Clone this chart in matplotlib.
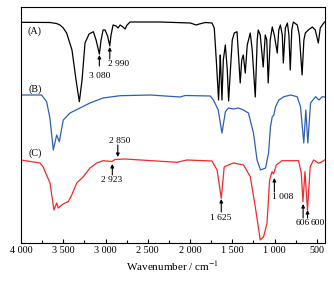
import matplotlib
matplotlib.use('Agg')
import matplotlib.pyplot as plt
import numpy

plt.rcParams['font.family'] = ['Liberation Serif', 'DejaVu Serif']
plt.rcParams['mathtext.fontset'] = 'stix'

# 光谱 A（黑）: 波数, 相对透过率（任意单位）
wn_a = [4000, 3658, 3580, 3539, 3500, 3460, 3397, 3349, 3310, 3278, 3243, 3195,
        3144, 3112, 3073, 3053, 3029, 3006, 2976, 2950, 2935, 2911, 2875, 2852,
        2828, 2793, 2769, 2745, 2710, 2354, 1998, 1927, 1891, 1821, 1741, 1714,
        1690, 1663, 1649, 1643, 1623, 1607, 1583, 1560, 1544, 1523, 1501, 1477,
        1445, 1431, 1407, 1389, 1371, 1347, 1324, 1288, 1265, 1229, 1206, 1194,
        1170, 1135, 1111, 1093, 1076, 1052, 1028, 1004, 969, 951, 932, 909, 897,
        873, 849, 831, 815, 797, 779, 732, 708, 675, 654, 637, 601, 554, 519,
        483, 460, 436, 410]
t_a = [220.7, 220.5, 219.5, 218, 215, 210, 193, 163, 141.3, 163, 200, 209,
       211.3, 203, 189, 203, 213, 213, 207, 197, 208, 218, 217, 215,
       218, 216, 214, 218, 221, 221, 220, 218, 219, 220.5, 220, 215,
       183, 143, 173, 188, 143, 183, 198, 173, 142, 173, 203, 210,
       211.3, 193, 160, 183, 188, 170, 198, 210, 193, 146, 203, 213,
       208, 176, 208, 203, 160, 203, 216, 208, 190, 213, 218, 208, 180,
       215, 220, 208, 173, 213, 221, 218, 208, 168, 203, 210, 213, 216, 213,
       200, 215, 218, 221]

# 光谱 B（蓝）
wn_b = [4000, 3756, 3697, 3658, 3618, 3578, 3547, 3500, 3420, 3302, 3184, 3030,
        2828, 2473, 2117, 2058, 1762, 1724, 1667, 1623, 1582, 1546, 1487, 1428,
        1369, 1310, 1250, 1208, 1167, 1107, 1072, 1049, 1028, 1009, 989, 950,
        890, 811, 734, 694, 655, 631, 607, 575, 516, 476, 436, 410]
t_b = [148, 148, 141.3, 125, 93, 108, 101.3, 123, 130, 135, 140, 145,
       147.3, 148, 146, 147.5, 147, 143, 133, 110, 131.3, 135, 134, 135,
       133, 130, 110, 83, 73, 75, 90, 116.3, 126.3, 128, 136.3, 143,
       146.3, 148, 146.3, 136.3, 100, 133, 100, 140, 146.3, 143, 146.3, 146]

# 光谱 C（红）
wn_c = [4000, 3776, 3740, 3657, 3610, 3578, 3559, 3519, 3480, 3441, 3400, 3341,
        3263, 3184, 3104, 3029, 2926, 2887, 2848, 2769, 2156, 2038, 1741, 1681,
        1631, 1596, 1487, 1367, 1288, 1229, 1170, 1130, 1090, 1059, 1031, 1012,
        980, 913, 717, 685, 665, 641, 611, 579, 539, 480, 438, 410]
t_c = [83, 80, 76.3, 60, 33, 40, 35, 38, 40, 41.3, 48, 60,
       66.3, 75, 80, 82.3, 81.5, 83.5, 83.7, 84, 80.7, 83, 82, 73,
       44.7, 76.3, 80, 78, 66.3, 36.3, 3, 6.3, 19.7, 63, 71.3, 69,
       78, 82.3, 82.3, 70, 41.3, 71.3, 33, 76.3, 83, 79.7, 81.3, 83]

# 标注: 文字, 文字位置(波数, y), 箭头(波数, 起点y, 终点y)
notes = [
    ('3 080', 3065, 167, 3073, 177, 188),
    ('2 990', 2850, 179, 2950, 184, 196),
    ('2 850', 2828, 102, 2855, 98, 86),
    ('2 923', 2923, 63, 2920, 68, 79),
    ('1 625', 1641, 25, 1631, 31, 44),
    ('1 008', 910, 46, 1003, 51, 65),
    ('606', 668, 20, 663, 25, 39),
    ('600', 484, 20, 611, 25, 33),
]
names = ['(A)', '(B)', '(C)']
name_y = [212, 154, 90]


def main():
    fig = plt.figure(figsize=(3.34, 2.83), dpi=100)
    ax = fig.add_axes([21 / 334, 1 - 243 / 283, 303.5 / 334, 236 / 283])
    ax.plot(wn_a, t_a, color='black', lw=0.9)
    ax.plot(wn_b, t_b, color='#2e5fb5', lw=0.9)
    ax.plot(wn_c, t_c, color='#f02a2a', lw=0.9)

    for txt, tx, ty, ax_x, y0, y1 in notes:
        ax.text(tx, ty, txt, fontsize=6.8, ha='center', va='center')
        ax.annotate('', xy=(ax_x, y1), xytext=(ax_x, y0),
                    arrowprops=dict(arrowstyle='-|>', color='black', lw=0.8,
                                    mutation_scale=5, shrinkA=0, shrinkB=0))
    for n, y in zip(names, name_y):
        ax.text(3835, y, n, fontsize=7.2, ha='center', va='center')

    ax.set_xlim(4000, 410)
    ax.set_ylim(0, 236)
    ax.set_xticks(numpy.arange(4000, 499, -500))
    ax.set_xticklabels(['4 000', '3 500', '3 000', '2 500', '2 000',
                        '1 500', '1 000', '500'])
    ax.set_xticks(numpy.arange(3750, 499, -500), minor=True)
    ax.set_yticks([])
    ax.tick_params(axis='x', which='major', direction='in', length=3,
                   width=0.8, labelsize=7.3, pad=2)
    ax.tick_params(axis='x', which='minor', direction='in', length=2, width=0.8)
    for s in ax.spines.values():
        s.set_linewidth(0.8)
    ax.set_xlabel('Wavenumber / cm$^{-1}$', fontsize=8, labelpad=3)
    fig.savefig('out.png', dpi=100)


if __name__ == '__main__':
    main()
